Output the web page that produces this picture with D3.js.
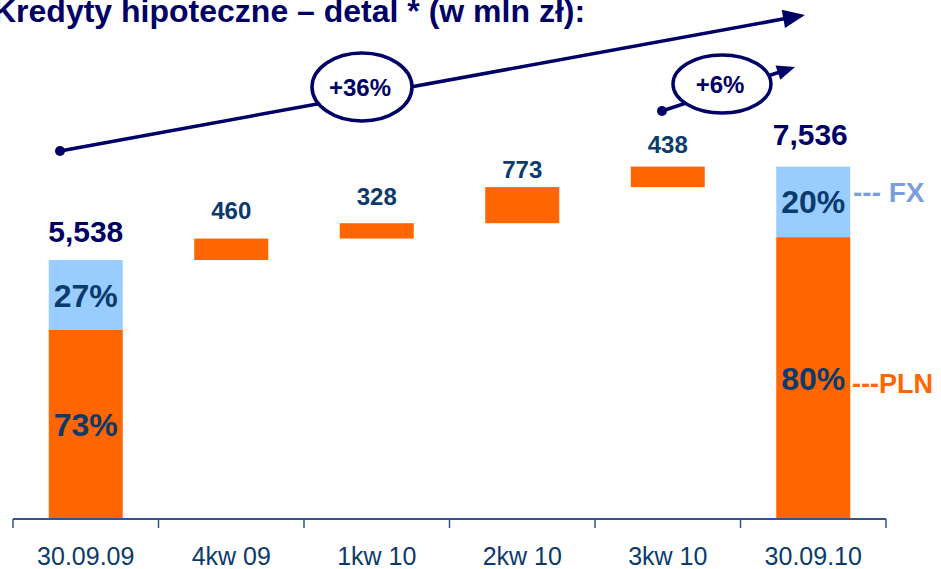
<!DOCTYPE html>
<html>
<head>
<meta charset="utf-8">
<script src="https://cdn.jsdelivr.net/npm/d3@7"></script>
<style>
  body { margin: 0; background: #fff; }
  svg { display: block; font-family: "Liberation Sans", Arial, sans-serif; }
</style>
</head>
<body>
<svg width="941" height="569"></svg>
<script>
// data
var categories = ['30.09.09', '4kw 09', '1kw 10', '2kw 10', '3kw 10', '30.09.10'];
var barValues = [5538, 460, 328, 773, 438, 7536];
var barKinds = ['total', 'delta', 'delta', 'delta', 'delta', 'total'];
var plnShare = [73, null, null, null, null, 80];
var fxShare = [27, null, null, null, null, 20];
var growthLabels = ['+36%', '+6%'];

// layout
var labelGap = [18, 20, 18, 9, 14, 22];
var orange = '#ff6600', lightBlue = '#99ccff', navy = '#000066', darkBlue = '#0b3a6c';

var svg = d3.select('svg');
var axisY = 519;

var xScale = d3.scaleBand()
    .domain(categories)
    .range([13, 886])
    .padding(0);
var barWidth = 74;
var barX = function(c) { return xScale(c) + (xScale.bandwidth() - barWidth) / 2; };

var yScale = d3.scaleLinear()
    .domain([0, 11100])
    .range([axisY, 0]);

// waterfall bases
var bars = [];
var running = 0;
categories.forEach(function(c, i) {
  var v = barValues[i];
  if (barKinds[i] == 'total') {
    bars.push({cat: c, lo: 0, hi: v, i: i});
    running = v;
  } else {
    bars.push({cat: c, lo: running, hi: running + v, i: i});
    running += v;
  }
});

// title (cut at the top like the slide)
svg.append('text')
    .attr('x', -7)
    .attr('y', 22)
    .attr('font-size', 32)
    .attr('font-weight', 'bold')
    .attr('fill', navy)
    .text('Kredyty hipoteczne – detal * (w mln zł):');

// delta bars
var deltas = bars.filter(function(d) { return barKinds[d.i] == 'delta'; });
svg.selectAll('rect.delta')
    .data(deltas)
    .enter()
    .append('rect')
    .attr('class', 'delta')
    .attr('x', function(d) { return barX(d.cat); })
    .attr('y', function(d) { return yScale(d.hi); })
    .attr('width', barWidth)
    .attr('height', function(d) { return yScale(d.lo) - yScale(d.hi); })
    .attr('fill', orange);

// total bars split PLN / FX
var totals = bars.filter(function(d) { return barKinds[d.i] == 'total'; });
totals.forEach(function(d) {
  var plnTop = d.hi * plnShare[d.i] / 100;
  var g = svg.append('g');
  g.append('rect')
      .attr('x', barX(d.cat))
      .attr('y', yScale(plnTop))
      .attr('width', barWidth)
      .attr('height', yScale(0) - yScale(plnTop))
      .attr('fill', orange);
  g.append('rect')
      .attr('x', barX(d.cat))
      .attr('y', yScale(d.hi))
      .attr('width', barWidth)
      .attr('height', yScale(plnTop) - yScale(d.hi))
      .attr('fill', lightBlue);
  var cx = xScale(d.cat) + xScale.bandwidth() / 2;
  g.append('text')
      .attr('x', cx)
      .attr('y', (yScale(0) + yScale(plnTop)) / 2)
      .attr('dy', '0.36em')
      .attr('text-anchor', 'middle')
      .attr('font-size', 32)
      .attr('font-weight', 'bold')
      .attr('fill', darkBlue)
      .text(plnShare[d.i] + '%');
  g.append('text')
      .attr('x', cx)
      .attr('y', (yScale(plnTop) + yScale(d.hi)) / 2)
      .attr('dy', '0.36em')
      .attr('text-anchor', 'middle')
      .attr('font-size', 32)
      .attr('font-weight', 'bold')
      .attr('fill', darkBlue)
      .text(fxShare[d.i] + '%');
});

// value labels
svg.selectAll('text.value')
    .data(bars)
    .enter()
    .append('text')
    .attr('class', 'value')
    .attr('x', function(d) { return xScale(d.cat) + xScale.bandwidth() / 2 + (d.i == 5 ? -3 : 0); })
    .attr('y', function(d) { return yScale(d.hi) - labelGap[d.i]; })
    .attr('text-anchor', 'middle')
    .attr('font-weight', 'bold')
    .attr('font-size', function(d) { return barKinds[d.i] == 'total' ? 30 : 24; })
    .attr('fill', function(d) { return barKinds[d.i] == 'total' ? navy : darkBlue; })
    .text(function(d) { return d3.format(',')(barValues[d.i]); });

// legend text next to last bar
var lastY = totals[1];
var lastPln = lastY.hi * plnShare[5] / 100;
svg.append('text')
    .attr('x', 853)
    .attr('y', (yScale(lastPln) + yScale(lastY.hi)) / 2)
    .attr('font-size', 28)
    .attr('font-weight', 'bold')
    .attr('fill', '#7b9edb')
    .text('--- FX');
svg.append('text')
    .attr('x', 852)
    .attr('y', 393)
    .attr('font-size', 27)
    .attr('font-weight', 'bold')
    .attr('fill', orange)
    .text('---PLN');

// axis
var axisColor = '#34548a';
svg.append('line')
    .attr('x1', 13).attr('x2', 886)
    .attr('y1', axisY).attr('y2', axisY)
    .attr('stroke', axisColor)
    .attr('stroke-width', 2);
var tickXs = categories.map(function(c) { return xScale(c); }).concat([xScale.range()[1]]);
svg.selectAll('line.tick')
    .data(tickXs)
    .enter()
    .append('line')
    .attr('class', 'tick')
    .attr('x1', function(d) { return d; })
    .attr('x2', function(d) { return d; })
    .attr('y1', axisY)
    .attr('y2', axisY + 9)
    .attr('stroke', axisColor)
    .attr('stroke-width', 1.5);
svg.selectAll('text.xlab')
    .data(categories)
    .enter()
    .append('text')
    .attr('class', 'xlab')
    .attr('x', function(d) { return xScale(d) + xScale.bandwidth() / 2; })
    .attr('y', 565)
    .attr('text-anchor', 'middle')
    .attr('font-size', 25)
    .attr('fill', darkBlue)
    .text(function(d) { return d; });

// growth arrows
var arrows = [
  {x1: 60, y1: 151, x2: 805, y2: 15, cx: 362, cy: 87, rx: 50, ry: 34, head: 22, label: growthLabels[0]},
  {x1: 662, y1: 111, x2: 795, y2: 67, cx: 722, cy: 84, rx: 49, ry: 29, head: 18, label: growthLabels[1]}
];
arrows.forEach(function(a) {
  var ang = Math.atan2(a.y2 - a.y1, a.x2 - a.x1);
  var bx = a.x2 - a.head * Math.cos(ang), by = a.y2 - a.head * Math.sin(ang);
  var w = a.head * 0.42;
  svg.append('line')
      .attr('x1', a.x1).attr('y1', a.y1)
      .attr('x2', bx + 2 * Math.cos(ang)).attr('y2', by + 2 * Math.sin(ang))
      .attr('stroke', navy)
      .attr('stroke-width', 3.5);
  svg.append('circle')
      .attr('cx', a.x1).attr('cy', a.y1)
      .attr('r', 5)
      .attr('fill', navy);
  svg.append('path')
      .attr('d', 'M' + a.x2 + ',' + a.y2 +
        'L' + (bx - w * Math.sin(ang)) + ',' + (by + w * Math.cos(ang)) +
        'L' + (bx + w * Math.sin(ang)) + ',' + (by - w * Math.cos(ang)) + 'Z')
      .attr('fill', navy);
  svg.append('ellipse')
      .attr('cx', a.cx).attr('cy', a.cy)
      .attr('rx', a.rx).attr('ry', a.ry)
      .attr('fill', '#fff')
      .attr('stroke', navy)
      .attr('stroke-width', 3.5);
  svg.append('text')
      .attr('x', a.cx - 2).attr('y', a.cy)
      .attr('dy', '0.36em')
      .attr('text-anchor', 'middle')
      .attr('font-size', 24)
      .attr('font-weight', 'bold')
      .attr('fill', navy)
      .text(a.label);
});
</script>
</body>
</html>
